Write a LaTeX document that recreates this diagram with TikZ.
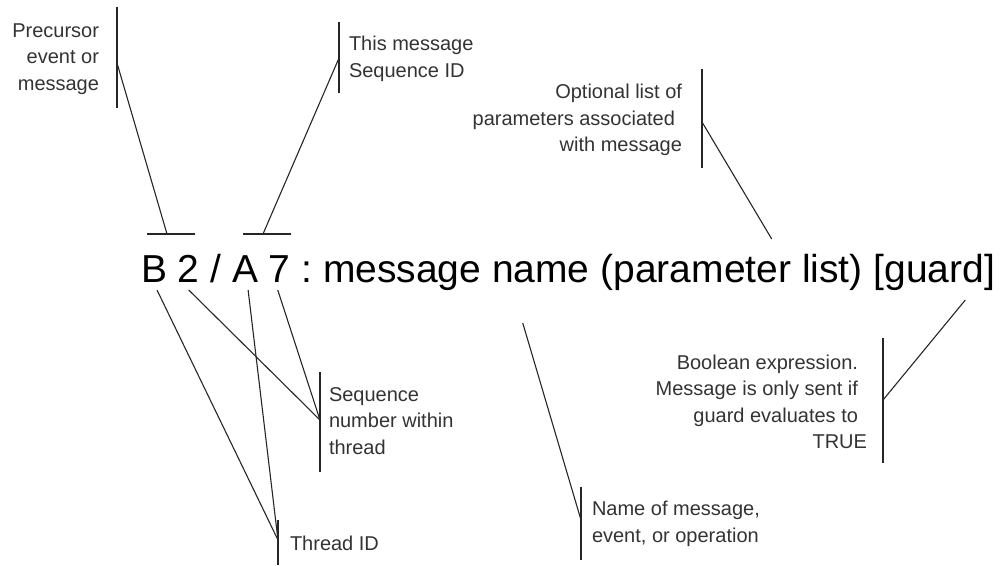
\documentclass[tikz,border=0pt]{standalone}
\usepackage{fontspec}
\setmainfont{Liberation Sans}
\usetikzlibrary{calc}
\definecolor{labelgray}{HTML}{333333}
\tikzset{
  mainchar/.style={anchor=base west, inner sep=0pt, outer sep=0pt, font=\fontsize{39}{47}\selectfont, text=black},
  lbl/.style={inner sep=0pt, outer sep=0pt, font=\fontsize{20}{26.5}\selectfont, text=labelgray},
  bar/.style={draw=black!85, line width=1.5pt},
  leader/.style={draw=black!85, line width=1.1pt},
}
\begin{document}
\begin{tikzpicture}[x=1pt,y=-1pt]
\useasboundingbox (0,0) rectangle (1001,565);
% main expression
\node[mainchar] (tB) at (141,282) {B};
\node[mainchar] (t2) at (177.9,282) {2};
\node[mainchar] (tslash) at (210.4,282) {/};
\node[mainchar] (tA) at (232.1,282) {A};
\node[mainchar] (t7) at (268.9,282) {7};
\node[mainchar] (tcolon) at (301.4,282) {:};
\node[mainchar] (tmsg) at (323.1,282) {message name};
\node[mainchar] (tparam) at (600.6,282) {(parameter list)};
\node[mainchar] (tguard) at (873.6,282) {[guard]};
% labels
\node[lbl, anchor=east, align=right] (precursor) at (99,59) {Precursor\\event or\\message};
\node[lbl, anchor=west, align=left] (thismsg) at (349,59) {This message\\Sequence ID};
\node[lbl, anchor=east, align=right] (optional) at (682,120) {Optional list of\\parameters associated\kern7pt\\with message};
\node[lbl, anchor=west, align=left] (seq) at (329,421) {Sequence\\number within\\thread};
\node[lbl, anchor=west, align=left] (thread) at (290,543) {Thread ID};
\node[lbl, anchor=west, align=left] (nameof) at (592,524) {Name of message,\\event, or operation};
\node[lbl, anchor=east, align=right] (boolean) at (867,402) {Boolean expression.\kern9pt\\Message is only sent if\kern9pt\\guard evaluates to\kern9pt\\TRUE};
% bars beside labels
\draw[bar] (117,7) -- (117,108);
\coordinate (preatt) at (117,63);
\draw[bar] (339,22) -- (339,93);
\coordinate (thisatt) at (339,58);
\draw[bar] (702,69) -- (702,168);
\coordinate (optatt) at (702,122);
\draw[bar] (320,372) -- (320,472);
\coordinate (seqatt) at (320,420);
\draw[bar] (278,520) -- (278,565);
\coordinate (thratt) at (278,540);
\draw[bar] (581,487) -- (581,560);
\coordinate (nameatt) at (581,520);
\draw[bar] (883,338) -- (883,463);
\coordinate (boolatt) at (883,400);
% horizontal bars above text
\draw[bar] (147,234) -- (195,234);
\coordinate (hbarA) at (167,234);
\draw[bar] (243,234) -- (291,234);
\coordinate (hbarB) at (263,234);
% leaders
\draw[leader] (preatt) -- (hbarA);
\draw[leader] (thisatt) -- (hbarB);
\draw[leader] (optatt) -- ($(tparam.base)+(40,-43)$);
\draw[leader] ($(tB.base)+(3,8)$) -- (thratt);
\draw[leader] ($(tA.base)+(3,8)$) -- (thratt);
\draw[leader] ($(t2.base)+(0,8)$) -- (seqatt);
\draw[leader] ($(t7.base)+(-2,8)$) -- (seqatt);
\draw[leader] ($(tmsg.base east)+(-67,41)$) -- (nameatt);
\draw[leader] ($(tguard.base)+(31,18)$) -- (boolatt);
\end{tikzpicture}
\end{document}
